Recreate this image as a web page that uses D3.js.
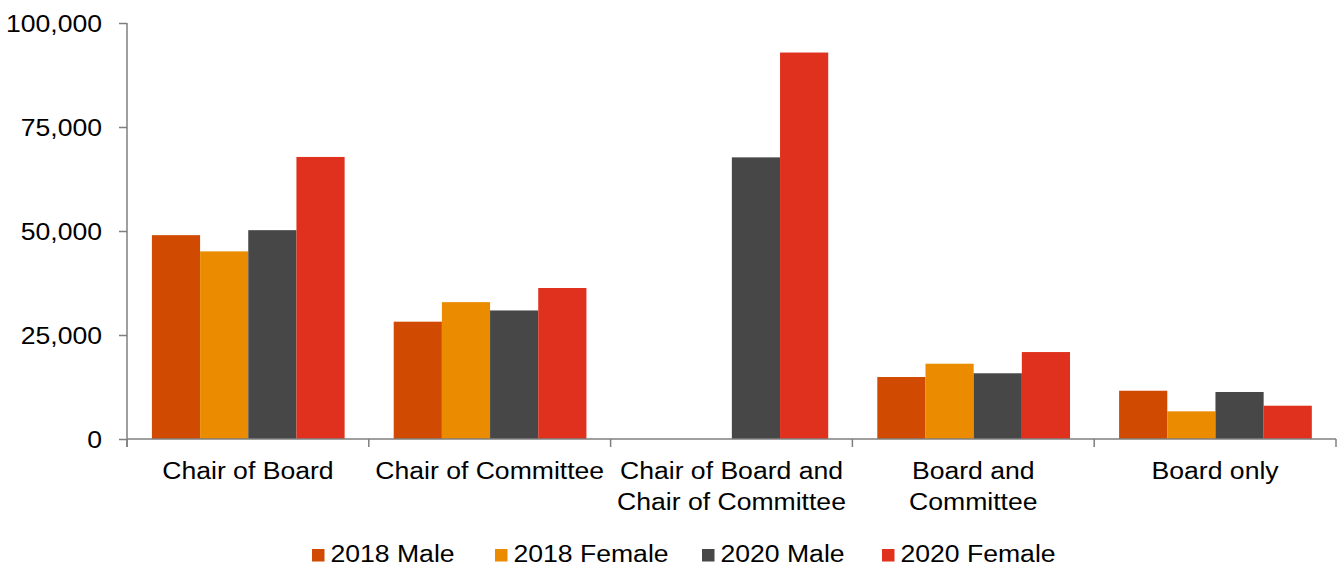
<!DOCTYPE html>
<html>
<head>
<meta charset="utf-8">
<script src="https://cdn.jsdelivr.net/npm/d3@7"></script>
<style>
  html, body { margin: 0; padding: 0; background: #fff; }
  svg { display: block; }
  text { font-family: "Liberation Sans", Arial, sans-serif; fill: #000; }
</style>
</head>
<body>
<svg id="chart" width="1344" height="568"></svg>
<script>
// Average fees by board role (in currency units)
const categories = [
  ["Chair of Board"],
  ["Chair of Committee"],
  ["Chair of Board and", "Chair of Committee"],
  ["Board and", "Committee"],
  ["Board only"]
];
const seriesNames = ["2018 Male", "2018 Female", "2020 Male", "2020 Female"];
const male2018   = [49000, 28200, null, 14900, 11600];
const female2018 = [45100, 32900, null, 18100, 6650];
const male2020   = [50200, 30900, 67700, 15800, 11300];
const female2020 = [67800, 36300, 92900, 20900, 8000];
const yTicks = [0, 25000, 50000, 75000, 100000];
const colors = ["#D04A02", "#EB8C00", "#474747", "#E0301E"];

const seriesValues = [male2018, female2018, male2020, female2020];
const catKeys = categories.map(c => c.join(" "));

const svg = d3.select("#chart");
const plotLeft = 127, plotRight = 1336, plotTop = 23, plotBottom = 439;
const axisColor = "#7f7f7f";
const fontSize = 24.5;
const stretch = "scale(1.085,1)";

const x0 = d3.scaleBand().domain(catKeys).range([plotLeft, plotRight]).padding(0);
const bw = x0.bandwidth();
const x1 = d3.scaleBand().domain(seriesNames).range([bw * 0.103, bw * 0.9]).padding(0);
const y = d3.scaleLinear().domain([0, 100000]).range([plotBottom, plotTop]);

// Bars
const groups = svg.append("g")
  .selectAll("g")
  .data(catKeys)
  .join("g")
  .attr("transform", d => `translate(${x0(d)},0)`);

groups.selectAll("rect")
  .data((d, i) => seriesNames.map((s, j) => ({ s, j, v: seriesValues[j][i] })).filter(e => e.v != null))
  .join("rect")
  .attr("x", d => x1(d.s))
  .attr("width", x1.bandwidth())
  .attr("y", d => y(d.v))
  .attr("height", d => y(0) - y(d.v))
  .attr("fill", d => colors[d.j]);

// Y axis
const yAxis = svg.append("g")
  .attr("transform", `translate(${plotLeft},0)`)
  .call(d3.axisLeft(y).tickValues(yTicks).tickFormat(d3.format(",")).tickSize(8).tickPadding(15).tickSizeOuter(0));
yAxis.select(".domain").attr("stroke", axisColor).attr("stroke-width", 1.5)
  .attr("d", `M0,${plotTop}V${plotBottom + 8}`);
yAxis.selectAll(".tick line").attr("stroke", axisColor).attr("stroke-width", 1.5);
yAxis.selectAll(".tick text")
  .attr("font-size", fontSize)
  .attr("font-family", "Liberation Sans, Arial, sans-serif")
  .attr("fill", "#000")
  .attr("dy", "0.34em")
  .attr("transform", stretch);

// X axis: baseline with ticks at category boundaries
const xAxis = svg.append("g");
xAxis.append("line")
  .attr("x1", plotLeft).attr("x2", plotRight)
  .attr("y1", plotBottom).attr("y2", plotBottom)
  .attr("stroke", axisColor).attr("stroke-width", 1.5);
const bounds = catKeys.map(k => x0(k)).concat([x0(catKeys[catKeys.length - 1]) + bw]);
xAxis.selectAll("line.tick")
  .data(bounds)
  .join("line")
  .attr("class", "tick")
  .attr("x1", d => d).attr("x2", d => d)
  .attr("y1", plotBottom).attr("y2", plotBottom + 8)
  .attr("stroke", axisColor).attr("stroke-width", 1.5);

// Category labels
const labels = xAxis.selectAll("g.label")
  .data(categories)
  .join("g")
  .attr("class", "label")
  .attr("transform", (d, i) => `translate(${x0(catKeys[i]) + bw / 2},${plotBottom + 40})`);
labels.append("text")
  .attr("text-anchor", "middle")
  .attr("font-size", fontSize)
  .attr("transform", stretch)
  .selectAll("tspan")
  .data(d => d)
  .join("tspan")
  .attr("x", 0)
  .attr("y", (d, i) => i * 31)
  .text(d => d);

// Legend
const legendItems = [
  { name: seriesNames[0], x: 312 },
  { name: seriesNames[1], x: 495 },
  { name: seriesNames[2], x: 702 },
  { name: seriesNames[3], x: 882 }
];
const legend = svg.append("g")
  .selectAll("g")
  .data(legendItems)
  .join("g")
  .attr("transform", d => `translate(${d.x},549)`);
legend.append("rect")
  .attr("width", 12.5).attr("height", 12.5)
  .attr("fill", (d, i) => colors[i]);
legend.append("text")
  .attr("x", 18.5)
  .attr("y", 13)
  .attr("font-size", fontSize)
  .attr("transform", "translate(18.5,0) " + stretch + " translate(-18.5,0)")
  .text(d => d.name);
</script>
</body>
</html>
